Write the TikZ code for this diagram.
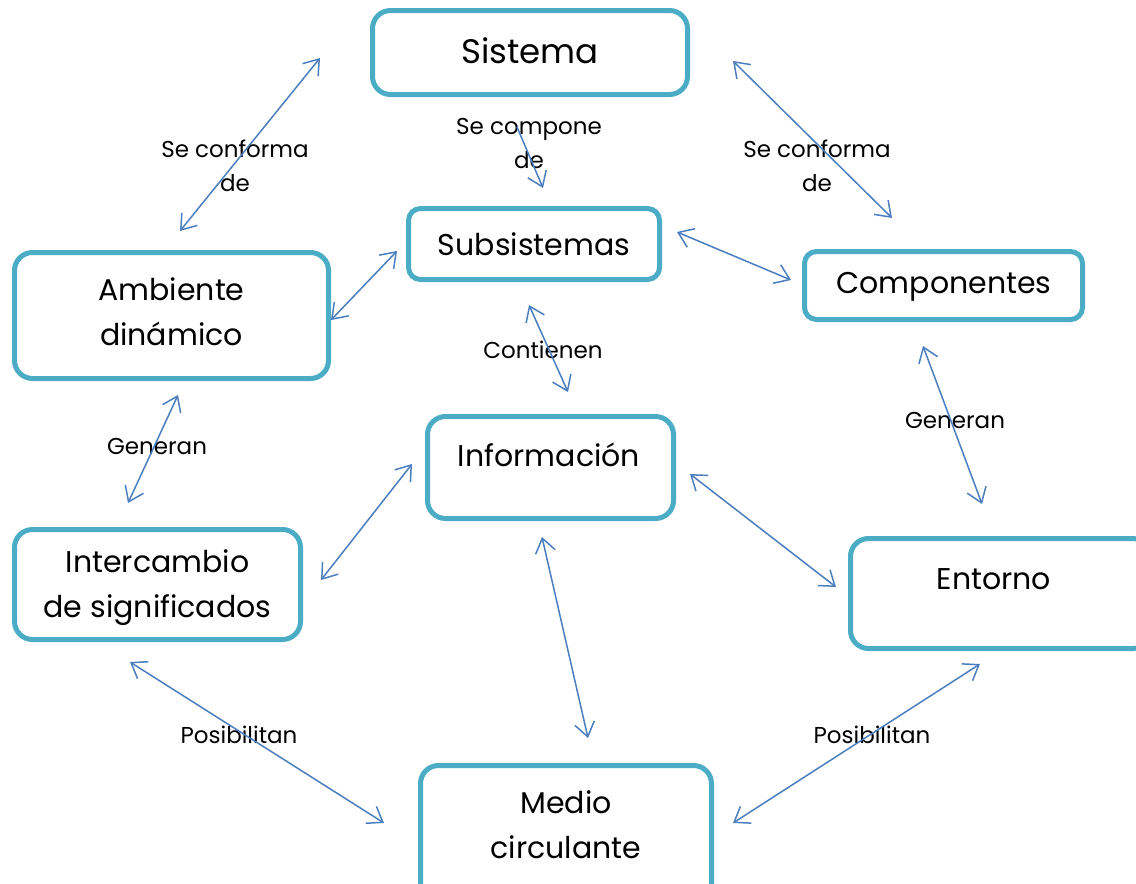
\documentclass[tikz,border=0pt]{standalone}
\usepackage{fontspec}
\setmainfont{Poppins}
\usetikzlibrary{arrows.meta}
\definecolor{boxc}{HTML}{4BACC6}
\definecolor{arrc}{HTML}{4A7EBF}
\tikzset{
  box/.style={draw=boxc, line width=5pt, rounded corners=18pt, fill=white, inner sep=0pt},
  sbox/.style={box, rounded corners=12pt},
  big/.style={font=\fontsize{34}{40}\selectfont, text=black, inner sep=0pt},
  mid/.style={font=\fontsize{30}{45}\selectfont, text=black, inner sep=0pt, align=center},
  lbl/.style={font=\fontsize{23}{34}\selectfont, text=black, inner sep=0pt, align=center},
  conn/.style={draw=arrc, line width=1.5pt, {Straight Barb[length=14pt,width=20pt,line width=1.5pt]}-{Straight Barb[length=14pt,width=20pt,line width=1.5pt]}},
  oneway/.style={draw=arrc, line width=1.5pt, -{Straight Barb[length=14pt,width=20pt,line width=1.5pt]}}
}
\begin{document}
\begin{tikzpicture}[x=1pt,y=-1pt]
\useasboundingbox (0,0) rectangle (1136,884);
\clip (0,0) rectangle (1136,884);
% boxes
\node[box, minimum width=315pt, minimum height=84pt] (sis) at (530,52.5) {};
\node[sbox, minimum width=251pt, minimum height=71pt] (sub) at (534,244) {};
\node[sbox, minimum width=278pt, minimum height=68pt] (com) at (943.5,285.5) {};
\node[box, minimum width=314pt, minimum height=126pt] (amb) at (171.5,315.5) {};
\node[box, minimum width=246pt, minimum height=102pt] (inf) at (550.5,467.5) {};
\node[box, minimum width=286pt, minimum height=110pt] (int) at (157.5,584.5) {};
\node[box, minimum width=300pt, minimum height=110pt] (ent) at (1000.5,593.5) {};
\node[box, minimum width=291pt, minimum height=140pt] (med) at (566,835.5) {};
% texts
\node[big] (tsis) at (530,51) {Sistema};
\node[mid] (tsub) at (534,244) {Subsistemas};
\node[mid] (tcom) at (944,287) {Componentes};
\node[mid] (tamb) at (171.5,312) {Ambiente\\dinámico};
\node[mid] (tinf) at (549,455) {Información};
\node[mid] (tint) at (157.5,588) {Intercambio\\de significados};
\node[mid] (tent) at (994,579) {Entorno};
\node[mid] (tmed) at (566,825) {Medio\\circulante};
% connector end points
\coordinate (a1) at (320,58);  \coordinate (b1) at (180,231);
\coordinate (a2) at (517,127); \coordinate (b2) at (543,188);
\coordinate (a3) at (733,61);  \coordinate (b3) at (892,218);
\coordinate (a4) at (397,251); \coordinate (b4) at (331,320);
\coordinate (a5) at (677,232); \coordinate (b5) at (791,280);
\coordinate (a6) at (529,305); \coordinate (b6) at (568,392);
\coordinate (a7) at (178,395); \coordinate (b7) at (128,503);
\coordinate (a8) at (923,346); \coordinate (b8) at (982,504);
\coordinate (a9) at (412,464); \coordinate (b9) at (321,580);
\coordinate (a10) at (690,474); \coordinate (b10) at (836,587);
\coordinate (a11) at (542,537); \coordinate (b11) at (588,738);
\coordinate (a12) at (130,662); \coordinate (b12) at (384,823);
\coordinate (a13) at (980,664); \coordinate (b13) at (733,823);
% labels
\node[lbl] (l1) at (235,166) {Se conforma\\de};
\node[lbl] (l2) at (529,143) {Se compone\\de};
\node[lbl] (l3) at (817,166) {Se conforma\\de};
\node[lbl] (l4) at (543,350) {Contienen};
\node[lbl] (l5) at (157,446) {Generan};
\node[lbl] (l6) at (955,420) {Generan};
\node[lbl] (l7) at (239,735) {Posibilitan};
\node[lbl] (l8) at (872,735) {Posibilitan};
% connectors
\draw[conn] (a1) -- (b1);
\draw[oneway] (a2) -- (b2);
\draw[conn] (a3) -- (b3);
\draw[conn] (a4) -- (b4);
\draw[conn] (a5) -- (b5);
\draw[conn] (a6) -- (b6);
\draw[conn] (a7) -- (b7);
\draw[conn] (a8) -- (b8);
\draw[conn] (a9) -- (b9);
\draw[conn] (a10) -- (b10);
\draw[conn] (a11) -- (b11);
\draw[conn] (a12) -- (b12);
\draw[conn] (a13) -- (b13);
\end{tikzpicture}
\end{document}
